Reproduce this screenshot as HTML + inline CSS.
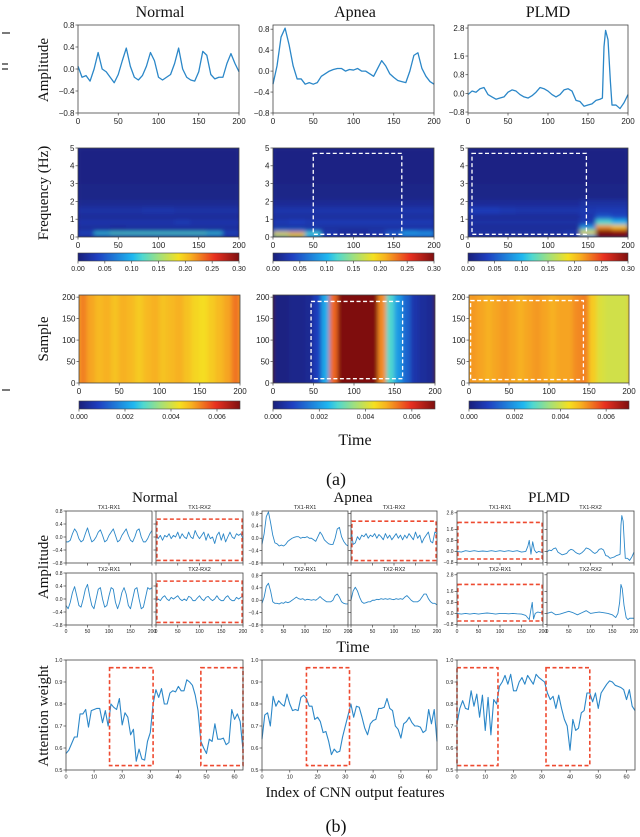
<!DOCTYPE html>
<html><head><meta charset="utf-8">
<style>
html,body{margin:0;padding:0;background:#fff;}
svg{display:block;}
.serif{font-family:"Liberation Serif",serif;fill:#111;}
.sans{font-family:"Liberation Sans",sans-serif;fill:#222;}
</style></head>
<body>
<svg id="fig" width="640" height="837" viewBox="0 0 640 837" xmlns="http://www.w3.org/2000/svg">
<defs>
<filter id="blur2" x="-5%" y="-5%" width="110%" height="110%"><feGaussianBlur stdDeviation="2.2" edgeMode="duplicate"/></filter>
<filter id="blur3" x="-5%" y="-5%" width="110%" height="110%"><feGaussianBlur stdDeviation="2.2,0.1" edgeMode="duplicate"/></filter>
<linearGradient id="jetgrad" x1="0" x2="1" y1="0" y2="0">
<stop offset="0" stop-color="#1a1f7a"/><stop offset="0.12" stop-color="#1f3fc0"/>
<stop offset="0.34" stop-color="#1fb8f0"/><stop offset="0.4" stop-color="#4fd8d0"/><stop offset="0.5" stop-color="#9ee080"/>
<stop offset="0.625" stop-color="#f5e020"/><stop offset="0.7" stop-color="#f7b020"/><stop offset="0.85" stop-color="#e83020"/><stop offset="1" stop-color="#7f1010"/>
</linearGradient>
</defs>
</svg>
<script>
// ---------- data: part (a) row 1 amplitude ----------
const tStep5 = [0,5,10,15,20,25,30,35,40,45,50,55,60,65,70,75,80,85,90,95,100,105,110,115,120,125,130,135,140,145,150,155,160,165,170,175,180,185,190,195,200];
const ampNormal = [0.05,-0.15,-0.12,-0.22,0.0,0.3,0.0,-0.05,-0.15,-0.25,-0.1,0.15,0.38,0.05,-0.15,-0.2,-0.12,0.05,0.3,0.15,-0.15,-0.2,-0.15,-0.1,0.1,0.38,0.0,-0.15,-0.2,-0.22,-0.05,0.32,0.25,-0.1,-0.18,-0.15,-0.15,0.1,0.28,0.1,-0.05];
const ampApnea = [-0.25,0.1,0.65,0.82,0.5,0.1,-0.15,-0.15,-0.25,-0.22,-0.25,-0.22,-0.1,-0.05,0.0,0.03,0.05,0.05,0.0,0.03,0.02,0.05,0.0,0.0,-0.05,-0.1,0.05,0.2,0.1,-0.05,-0.12,-0.18,-0.2,-0.22,0.0,0.3,0.35,0.05,-0.1,-0.2,-0.25];
const tPlmd = [0,5,10,15,20,25,30,35,40,45,50,55,60,65,70,75,80,85,90,95,100,105,110,115,120,125,130,135,140,145,150,155,160,165,168,170,172,175,178,180,185,190,195,200];
const ampPlmd = [-0.05,0.1,0.05,0.2,0.25,-0.05,-0.15,-0.25,-0.2,-0.15,0.05,0.15,0.1,-0.05,-0.15,-0.2,-0.1,0.05,0.25,0.2,0.1,-0.05,-0.15,-0.05,0.15,0.2,0.1,-0.3,-0.35,-0.55,-0.5,-0.45,-0.3,-0.25,-0.2,2.0,2.7,2.3,0.5,-0.5,-0.5,-0.65,-0.4,-0.05];

// ---------- data: part (a) row 2 spectrograms (rows = freq bins, bottom to top; 10 time columns) ----------
const freqEdges = [0,0.15,0.3,0.45,0.7,1.0,1.3,1.7,2.1,3,5];
const specNormal = [
 [0.015,0.015,0.015,0.015,0.015,0.015,0.015,0.015,0.015,0.015],
 [0.04,0.11,0.12,0.12,0.12,0.12,0.12,0.12,0.11,0.04],
 [0.02,0.02,0.02,0.02,0.02,0.02,0.02,0.02,0.02,0.02],
 [0.018,0.018,0.015,0.018,0.018,0.018,0.018,0.018,0.018,0.018],
 [0.025,0.025,0.025,0.025,0.025,0.025,0.03,0.025,0.025,0.025],
 [0.015,0.015,0.015,0.015,0.015,0.015,0.015,0.015,0.015,0.015],
 [0.022,0.022,0.022,0.022,0.025,0.025,0.022,0.022,0.022,0.022],
 [0.012,0.012,0.012,0.012,0.012,0.012,0.012,0.012,0.012,0.012],
 [0.007,0.007,0.007,0.007,0.007,0.007,0.007,0.007,0.007,0.007],
 [0.005,0.005,0.005,0.005,0.005,0.005,0.005,0.005,0.005,0.005]];
const specApnea = [
 [0.15,0.18,0.1,0.025,0.015,0.015,0.015,0.025,0.05,0.06],
 [0.2,0.22,0.12,0.03,0.02,0.02,0.03,0.06,0.1,0.09],
 [0.07,0.07,0.05,0.02,0.015,0.015,0.02,0.03,0.04,0.04],
 [0.02,0.02,0.02,0.02,0.02,0.02,0.02,0.02,0.02,0.02],
 [0.03,0.035,0.03,0.03,0.03,0.03,0.03,0.03,0.03,0.03],
 [0.018,0.018,0.018,0.018,0.018,0.018,0.018,0.018,0.018,0.018],
 [0.025,0.025,0.025,0.025,0.025,0.025,0.025,0.025,0.025,0.025],
 [0.014,0.014,0.014,0.014,0.014,0.014,0.014,0.014,0.014,0.014],
 [0.007,0.007,0.007,0.007,0.007,0.007,0.007,0.007,0.007,0.007],
 [0.005,0.005,0.005,0.005,0.005,0.005,0.005,0.005,0.005,0.005]];
const specPlmd = [
 [0.015,0.015,0.015,0.015,0.015,0.015,0.015,0.1,0.3,0.3],
 [0.02,0.02,0.02,0.02,0.02,0.02,0.03,0.2,0.3,0.3],
 [0.02,0.02,0.02,0.02,0.02,0.02,0.02,0.15,0.3,0.28],
 [0.015,0.015,0.015,0.015,0.015,0.015,0.015,0.08,0.22,0.2],
 [0.022,0.022,0.022,0.022,0.022,0.022,0.022,0.03,0.12,0.1],
 [0.015,0.015,0.015,0.015,0.015,0.015,0.015,0.025,0.05,0.04],
 [0.032,0.032,0.028,0.025,0.025,0.025,0.025,0.028,0.03,0.03],
 [0.015,0.015,0.015,0.015,0.015,0.015,0.015,0.02,0.02,0.02],
 [0.007,0.007,0.007,0.007,0.007,0.007,0.007,0.007,0.007,0.007],
 [0.005,0.005,0.005,0.005,0.005,0.005,0.005,0.005,0.005,0.005]];

// ---------- data: part (a) row 3 (value per 10-sample time column) ----------
const corrNormal = [0.0053,0.005,0.0048,0.0049,0.0047,0.0049,0.0048,0.0046,0.0048,0.0049,0.0047,0.0048,0.0049,0.0047,0.0045,0.0044,0.0046,0.0048,0.005,0.0054];
const corrApnea = [0.0001,0.0001,0.0002,0.0002,0.0003,0.0008,0.0022,0.0055,0.007,0.007,0.007,0.007,0.007,0.0052,0.0028,0.002,0.0013,0.0006,0.0004,0.0003];
const corrPlmd = [0.0051,0.005,0.0049,0.005,0.0051,0.005,0.0049,0.005,0.0051,0.005,0.0049,0.005,0.005,0.0052,0.0053,0.0046,0.0041,0.004,0.004,0.004];

// ---------- data: part (b) amplitudes ----------
const bNormal11 = [-0.15,-0.15,-0.1,0.1,0.25,0.15,-0.05,-0.15,-0.1,0.1,0.28,0.05,-0.15,-0.1,0.0,0.15,0.22,0.05,-0.15,-0.1,0.05,0.15,0.25,0.05,-0.15,-0.1,0.05,0.15,0.25,0.05,-0.1,-0.15,0.0,0.2,0.25,0.0,-0.15,-0.15,-0.05,0.1,0.2];
const bNormal12 = [0.1,-0.05,0.05,-0.1,0.05,0.0,0.1,-0.05,0.05,0.0,0.15,-0.05,0.1,0.0,-0.05,0.15,0.0,-0.05,0.2,0.05,-0.05,0.05,0.15,-0.1,0.1,-0.05,0.0,-0.2,0.05,0.15,-0.1,0.1,-0.15,0.0,0.15,0.0,-0.05,0.1,0.05,0.1,-0.05];
const bNormal21 = [-0.2,-0.3,-0.1,0.2,0.38,0.1,-0.2,-0.25,0.0,0.3,0.45,0.1,-0.2,-0.3,0.0,0.3,0.35,0.0,-0.25,-0.2,0.1,0.35,0.3,-0.1,-0.3,-0.1,0.2,0.35,0.15,-0.2,-0.3,0.0,0.3,0.35,0.0,-0.3,-0.25,0.05,0.35,0.3,0.35];
const bNormal22 = [-0.05,0.0,-0.05,0.05,0.1,0.0,-0.05,0.05,0.0,0.05,0.1,0.0,-0.05,0.0,-0.05,0.08,0.05,-0.05,-0.05,0.03,0.1,0.0,-0.05,0.05,0.08,0.0,-0.05,0.0,0.1,0.0,-0.05,-0.05,0.05,0.1,0.0,-0.05,-0.05,0.05,0.0,0.05,0.1];
const bApnea11 = [-0.2,0.15,0.7,0.85,0.5,0.1,-0.15,-0.18,-0.25,-0.22,-0.25,-0.2,-0.1,-0.05,0.0,0.03,0.05,0.05,0.0,0.03,0.02,0.05,0.0,0.0,-0.05,-0.1,0.05,0.2,0.1,-0.05,-0.12,-0.18,-0.2,-0.2,0.0,0.3,0.35,0.05,-0.1,-0.2,-0.25];
const bApnea12 = [0.3,-0.2,-0.15,0.05,-0.05,0.1,0.05,0.15,0.0,0.1,0.05,0.15,0.0,0.12,0.05,-0.05,0.15,0.0,0.1,-0.05,0.05,0.15,0.0,0.1,-0.05,0.1,0.0,0.15,0.05,-0.05,0.2,0.0,0.1,-0.15,0.0,0.1,0.2,-0.1,-0.15,0.2,0.15];
const bApnea21 = [-0.1,0.1,0.45,0.55,0.3,-0.05,-0.1,-0.1,-0.12,-0.08,-0.1,-0.05,-0.08,-0.05,0.0,0.05,0.1,0.05,0.03,0.05,0.0,0.03,0.02,0.0,0.02,0.0,0.05,0.12,0.05,0.0,-0.05,-0.05,-0.05,0.0,0.15,0.2,0.1,-0.05,-0.1,-0.12,-0.12];
const bApnea22 = [0.0,0.3,0.42,0.3,0.1,-0.05,-0.1,-0.08,-0.05,-0.05,0.0,0.0,0.03,0.02,0.05,0.03,0.05,0.03,0.05,0.03,0.02,0.05,0.03,0.05,0.03,0.1,0.15,0.08,0.0,-0.05,-0.05,-0.05,0.0,0.1,0.2,0.2,0.05,-0.05,-0.1,-0.1,-0.15];
const tP11 = [0,10,20,30,40,50,60,70,80,90,100,110,120,130,140,150,160,165,168,172,176,180,185,190,200];
const bPlmd11 = [0.0,-0.05,0.05,0.0,0.05,0.0,0.03,0.0,0.05,0.0,0.05,0.0,0.05,0.0,0.05,-0.05,0.0,0.4,0.8,-0.2,0.7,0.1,-0.1,0.0,-0.1];
const bPlmd12 = [-0.05,0.1,0.05,0.2,0.25,-0.05,-0.15,-0.25,-0.2,-0.15,0.05,0.15,0.1,-0.05,-0.15,-0.2,-0.1,0.05,0.25,0.2,0.1,-0.05,-0.15,-0.05,0.15,0.2,0.1,-0.3,-0.35,-0.5,-0.45,-0.4,-0.3,-0.25,-0.2,1.9,2.6,2.2,0.5,-0.5,-0.5,-0.65,-0.4,-0.05];
const tP21 = [0,10,20,30,40,50,60,70,80,90,100,110,120,130,140,150,160,168,172,175,178,182,188,195,200];
const bPlmd21 = [0.0,-0.05,0.0,-0.05,0.0,-0.05,0.0,0.03,0.0,-0.05,0.0,0.0,-0.03,0.0,-0.03,-0.05,-0.15,-0.45,0.3,0.8,-0.4,0.0,0.1,0.05,0.1];
const tP22 = [0,10,20,30,40,50,60,70,80,90,100,110,120,130,140,150,158,163,167,170,173,177,182,186,190,200];
const bPlmd22 = [0.0,0.1,-0.1,-0.05,0.05,0.15,0.05,-0.1,0.05,0.2,0.0,0.05,0.1,0.05,0.0,-0.1,-0.3,0.0,0.8,2.1,1.8,0.6,-0.3,-0.45,-0.35,-0.35];

// ---------- data: attention weights (index 0..63) ----------
const attNormal = [0.575,0.59,0.62,0.65,0.65,0.755,0.755,0.775,0.695,0.77,0.775,0.78,0.78,0.715,0.77,0.7,0.8,0.785,0.775,0.825,0.705,0.76,0.74,0.66,0.685,0.54,0.595,0.55,0.545,0.63,0.67,0.8,0.865,0.83,0.87,0.8,0.8,0.85,0.86,0.855,0.88,0.86,0.86,0.91,0.9,0.885,0.84,0.77,0.63,0.6,0.575,0.64,0.63,0.71,0.64,0.64,0.645,0.615,0.625,0.775,0.73,0.755,0.72,0.59];
const attApnea = [0.64,0.75,0.76,0.7,0.835,0.79,0.815,0.8,0.79,0.845,0.8,0.77,0.775,0.77,0.83,0.84,0.825,0.79,0.79,0.73,0.74,0.72,0.67,0.675,0.63,0.57,0.595,0.58,0.585,0.65,0.7,0.75,0.8,0.74,0.79,0.785,0.74,0.69,0.66,0.71,0.725,0.73,0.78,0.78,0.785,0.825,0.78,0.77,0.7,0.685,0.645,0.71,0.72,0.74,0.715,0.7,0.7,0.695,0.67,0.68,0.775,0.71,0.775,0.63];
const attPlmd = [0.71,0.78,0.815,0.78,0.775,0.86,0.79,0.845,0.74,0.84,0.68,0.83,0.66,0.82,0.8,0.88,0.9,0.93,0.89,0.935,0.86,0.86,0.9,0.92,0.89,0.93,0.91,0.89,0.935,0.92,0.91,0.9,0.85,0.82,0.835,0.78,0.84,0.78,0.73,0.7,0.59,0.73,0.68,0.69,0.76,0.77,0.85,0.85,0.81,0.85,0.78,0.85,0.87,0.89,0.905,0.9,0.885,0.88,0.875,0.865,0.82,0.865,0.79,0.77];

// ---------- tick label arrays ----------
const tickTime = [0,50,100,150,200];
const tickAmp = ['0.8','0.4','0.0','−0.4','−0.8'];
const tickAmpVals = [0.8,0.4,0,-0.4,-0.8];
const tickPlmdVals = [2.8,1.6,0.8,0,-0.8];
const tickPlmd = ['2.8','1.6','0.8','0.0','−0.8'];
const tickFreq = [0,1,2,3,4,5];
const tickSample = [0,50,100,150,200];
const tickCb1 = ['0.00','0.05','0.10','0.15','0.20','0.25','0.30'];
const tickCb1Vals = [0,0.05,0.1,0.15,0.2,0.25,0.3];
const tickCb2 = ['0.000','0.002','0.004','0.006'];
const tickCb2Vals = [0,0.002,0.004,0.006];
const tickAtt = ['0.5','0.6','0.7','0.8','0.9','1.0'];
const tickAttVals = [0.5,0.6,0.7,0.8,0.9,1.0];
const tickIdx = [0,10,20,30,40,50,60];

// ---------- helpers ----------
const NS='http://www.w3.org/2000/svg';
const svg=document.getElementById('fig');
const LINE='#2b87c8';
function mk(tag, parent){ const e=document.createElementNS(NS,tag); (parent||svg).appendChild(e); return e; }
// muted jet colormap (matches the softened colours of the reference)
const jetStops=[[0,[26,31,122]],[0.12,[31,63,192]],[0.34,[31,184,240]],[0.4,[79,216,208]],[0.5,[158,224,128]],[0.625,[245,224,32]],[0.7,[247,176,32]],[0.85,[232,48,32]],[1,[127,16,16]]];
function jet(x){ x=Math.max(0,Math.min(1,x));
  for(let i=1;i<jetStops.length;i++){ if(x<=jetStops[i][0]){ const a=jetStops[i-1],b=jetStops[i]; const f=(x-a[0])/(b[0]-a[0]);
    const c=a[1].map((v,k)=>Math.round(v+(b[1][k]-v)*f)); return 'rgb('+c.join(',')+')'; } }
  return 'rgb(127,16,16)'; }
function scale(box,xd,yd){ return { x:v=>box.x+(v-xd[0])/(xd[1]-xd[0])*box.w, y:v=>box.y+box.h-(v-yd[0])/(yd[1]-yd[0])*box.h }; }
function text(str,x,y,size,cls,anchor,parent){ const t=mk('text',parent); t.setAttribute('x',x); t.setAttribute('y',y);
  t.setAttribute('font-size',size); t.setAttribute('class',cls); t.setAttribute('text-anchor',anchor||'middle'); t.textContent=str; return t; }
function frame(box,name){ const r=mk('rect'); r.setAttribute('x',box.x); r.setAttribute('y',box.y); r.setAttribute('width',box.w); r.setAttribute('height',box.h);
  r.setAttribute('fill','none'); r.setAttribute('stroke','#444'); r.setAttribute('stroke-width','0.8');
  
   return r; }
function xticks(sc,box,vals,labels,size,name){ const g=mk('g');
  
  
  vals.forEach((v,i)=>{ const X=sc.x(v); const l=mk('line',g); l.setAttribute('x1',X); l.setAttribute('x2',X); l.setAttribute('y1',box.y+box.h); l.setAttribute('y2',box.y+box.h+2.5); l.setAttribute('stroke','#444'); l.setAttribute('stroke-width','0.7');
    if(labels) text(labels[i],X,box.y+box.h+3+size,size,'sans','middle',g); }); }
function yticks(sc,box,vals,labels,size,name){ const g=mk('g');
  
  
  vals.forEach((v,i)=>{ const Y=sc.y(v); const l=mk('line',g); l.setAttribute('x1',box.x-2.5); l.setAttribute('x2',box.x); l.setAttribute('y1',Y); l.setAttribute('y2',Y); l.setAttribute('stroke','#444'); l.setAttribute('stroke-width','0.7');
    if(labels) text(labels[i],box.x-3.5,Y+size*0.36,size,'sans','end',g); }); }
function series(sc,xs,ys,width,name){ const p=mk('path'); let d='';
  ys.forEach((v,i)=>{ d+=(i?'L':'M')+sc.x(xs[i]).toFixed(2)+','+sc.y(v).toFixed(2); });
  p.setAttribute('d',d); p.setAttribute('fill','none'); p.setAttribute('stroke',LINE); p.setAttribute('stroke-width',width); p.setAttribute('stroke-linejoin','round');
  
   return p; }
function dbox(sc,x0,x1,y0,y1,color,w,name){ const r=mk('rect'); const X0=sc.x(x0),X1=sc.x(x1),Y0=sc.y(y1),Y1=sc.y(y0);
  r.setAttribute('x',X0); r.setAttribute('y',Y0); r.setAttribute('width',X1-X0); r.setAttribute('height',Y1-Y0);
  r.setAttribute('fill','none'); r.setAttribute('stroke',color); r.setAttribute('stroke-width',w); r.setAttribute('stroke-dasharray','4,2.5');
  
   }
let clipN=0;
function clipGroup(box){ const cp=mk('clipPath',svg.querySelector('defs')); const id='c'+(clipN++); cp.setAttribute('id',id);
  const r=mk('rect',cp); r.setAttribute('x',box.x); r.setAttribute('y',box.y); r.setAttribute('width',box.w); r.setAttribute('height',box.h);
  const g=mk('g'); g.setAttribute('clip-path','url(#'+id+')'); return g; }
function colorbar(box,dmax,vals,labels,name){ const r=mk('rect'); r.setAttribute('x',box.x); r.setAttribute('y',box.y); r.setAttribute('width',box.w); r.setAttribute('height',box.h);
  r.setAttribute('fill','url(#jetgrad)'); r.setAttribute('stroke','#444'); r.setAttribute('stroke-width','0.6');
  
  
  const sc=scale(box,[0,dmax],[0,1]); xticks(sc,box,vals,labels,7,name+'-ticks'); }

// ---------- Part (a) ----------
const colTitlesA=[['Normal',160],['Apnea',355],['PLMD',548]];
colTitlesA.forEach(c=>{ const t=text(c[0],c[1],17,16,'serif');
  
   });

const row1=[
 {n:'normal',box:{x:78,y:25,w:161,h:88},yd:[-0.8,0.8],xs:tStep5,ys:ampNormal,tv:tickAmpVals,tl:tickAmp},
 {n:'apnea',box:{x:273,y:25,w:161,h:88},yd:[-0.8,0.88],xs:tStep5,ys:ampApnea,tv:tickAmpVals,tl:tickAmp},
 {n:'plmd',box:{x:468,y:25,w:160,h:88},yd:[-0.84,2.93],xs:tPlmd,ys:ampPlmd,tv:tickPlmdVals,tl:tickPlmd}];
row1.forEach(p=>{ const sc=scale(p.box,[0,200],p.yd);
  series(sc,p.xs,p.ys,1.3,'amplitude-line-'+p.n);
  frame(p.box,'amplitude-axes-'+p.n);
  xticks(sc,p.box,tickTime,tickTime.map(String),8,'amplitude-x-ticks-'+p.n);
  yticks(sc,p.box,p.tv,p.tl,8,'amplitude-y-ticks-'+p.n); });

const row2=[
 {n:'normal',box:{x:78,y:148,w:161,h:89},z:specNormal,bx:null},
 {n:'apnea',box:{x:273,y:148,w:161,h:89},z:specApnea,bx:[50,160,0.15,4.7]},
 {n:'plmd',box:{x:468,y:148,w:160,h:89},z:specPlmd,bx:[5,148,0.15,4.7]}];
row2.forEach(p=>{ const sc=scale(p.box,[0,200],[0,5]);
  const g=clipGroup(p.box);
  
  
  const bg=mk('rect',g); bg.setAttribute('x',p.box.x); bg.setAttribute('y',p.box.y); bg.setAttribute('width',p.box.w); bg.setAttribute('height',p.box.h); bg.setAttribute('fill',jet(0.01/0.3));
  const inner=mk('g',g); inner.setAttribute('filter','url(#blur2)');
  const nt=p.z[0].length;
  p.z.forEach((row,ri)=>{ row.forEach((v,ci)=>{ const c=mk('rect',inner);
    const x0=sc.x(ci*200/nt), x1=sc.x((ci+1)*200/nt), y0=sc.y(freqEdges[ri+1]), y1=sc.y(freqEdges[ri]);
    c.setAttribute('x',x0-0.3); c.setAttribute('y',y0-0.3); c.setAttribute('width',x1-x0+0.6); c.setAttribute('height',y1-y0+0.6); c.setAttribute('fill',jet(v/0.3));
    
     }); });
  if(p.bx) dbox(sc,p.bx[0],p.bx[1],p.bx[2],p.bx[3],'#fff',1.3,'highlight-box-spectrogram-'+p.n);
  frame(p.box,'spectrogram-axes-'+p.n);
  xticks(sc,p.box,tickTime,tickTime.map(String),8,'spectrogram-x-ticks-'+p.n);
  yticks(sc,p.box,tickFreq,tickFreq.map(String),8,'spectrogram-y-ticks-'+p.n);
  colorbar({x:p.box.x,y:253,w:p.box.w,h:8},0.3,tickCb1Vals,tickCb1,'colorbar-spectrogram-'+p.n); });

const row3=[
 {n:'normal',box:{x:79,y:295,w:161,h:88},z:corrNormal,bx:null},
 {n:'apnea',box:{x:273,y:295,w:162,h:88},z:corrApnea,bx:[47,160,10,190]},
 {n:'plmd',box:{x:469,y:295,w:160,h:88},z:corrPlmd,bx:[2,143,8,192]}];
row3.forEach(p=>{ const sc=scale(p.box,[0,200],[0,205]);
  const g=clipGroup(p.box);
  
  
  const bg=mk('rect',g); bg.setAttribute('x',p.box.x); bg.setAttribute('y',p.box.y); bg.setAttribute('width',p.box.w); bg.setAttribute('height',p.box.h); bg.setAttribute('fill',jet(p.z[10]/0.007));
  const inner=mk('g',g); inner.setAttribute('filter','url(#blur3)');
  const nt=p.z.length;
  p.z.forEach((v,ci)=>{ const c=mk('rect',inner); const x0=sc.x(ci*200/nt), x1=sc.x((ci+1)*200/nt);
    c.setAttribute('x',x0-0.3); c.setAttribute('y',p.box.y-3); c.setAttribute('width',x1-x0+0.6); c.setAttribute('height',p.box.h+6); c.setAttribute('fill',jet(v/0.007));
    
     });
  if(p.bx) dbox(sc,p.bx[0],p.bx[1],p.bx[2],p.bx[3],'#fff',1.3,'highlight-box-sample-'+p.n);
  frame(p.box,'sample-axes-'+p.n);
  xticks(sc,p.box,tickTime,tickTime.map(String),8,'sample-x-ticks-'+p.n);
  yticks(sc,p.box,tickSample,tickSample.map(String),8,'sample-y-ticks-'+p.n);
  colorbar({x:p.box.x,y:401,w:p.box.w,h:8},0.007,tickCb2Vals,tickCb2,'colorbar-sample-'+p.n); });

function rotLabel(str,x,y,size,name){ const t=text(str,0,0,size,'serif'); t.setAttribute('transform','translate('+x+','+y+') rotate(-90)');
  
   }
rotLabel('Amplitude',48,70,15,'y-axis-title-amplitude-a');
rotLabel('Frequency (Hz)',48,193,15,'y-axis-title-frequency');
rotLabel('Sample',48,339,15,'y-axis-title-sample');
let t1=text('Time',355,445,16,'serif');  
let t2=text('(a)',336,485,18,'serif');  

// ---------- Part (b) ----------
const colTitlesB=[['Normal',155],['Apnea',353],['PLMD',549]];
colTitlesB.forEach(c=>{ const t=text(c[0],c[1],502,15,'serif');
  
   });

const ampB=[
 {n:'normal',t:'TX1-RX1',box:{x:66,y:511,w:86,h:52},yd:[-0.8,0.8],xs:tStep5,ys:bNormal11,ylab:true,xlab:false,bx:null},
 {n:'normal',t:'TX1-RX2',box:{x:156,y:511,w:87,h:52},yd:[-0.8,0.8],xs:tStep5,ys:bNormal12,ylab:false,xlab:false,bx:[2,198,-0.72,0.55]},
 {n:'normal',t:'TX2-RX1',box:{x:66,y:573,w:86,h:52},yd:[-0.8,0.8],xs:tStep5,ys:bNormal21,ylab:true,xlab:true,bx:null},
 {n:'normal',t:'TX2-RX2',box:{x:156,y:573,w:87,h:52},yd:[-0.8,0.8],xs:tStep5,ys:bNormal22,ylab:false,xlab:true,bx:[2,198,-0.72,0.55]},
 {n:'apnea',t:'TX1-RX1',box:{x:262,y:511,w:86,h:52},yd:[-0.8,0.88],xs:tStep5,ys:bApnea11,ylab:true,xlab:false,bx:null},
 {n:'apnea',t:'TX1-RX2',box:{x:351,y:511,w:86,h:52},yd:[-0.8,0.88],xs:tStep5,ys:bApnea12,ylab:false,xlab:false,bx:[2,198,-0.72,0.55]},
 {n:'apnea',t:'TX2-RX1',box:{x:262,y:573,w:86,h:52},yd:[-0.8,0.88],xs:tStep5,ys:bApnea21,ylab:true,xlab:true,bx:null},
 {n:'apnea',t:'TX2-RX2',box:{x:351,y:573,w:86,h:52},yd:[-0.8,0.88],xs:tStep5,ys:bApnea22,ylab:false,xlab:true,bx:null},
 {n:'plmd',t:'TX1-RX1',box:{x:457,y:511,w:86,h:52},yd:[-0.84,2.93],xs:tP11,ys:bPlmd11,ylab:true,xlab:false,bx:[2,198,-0.55,2.1]},
 {n:'plmd',t:'TX1-RX2',box:{x:547,y:511,w:87,h:52},yd:[-0.84,2.93],xs:tPlmd,ys:bPlmd12,ylab:false,xlab:false,bx:null},
 {n:'plmd',t:'TX2-RX1',box:{x:457,y:573,w:86,h:52},yd:[-0.84,2.93],xs:tP21,ys:bPlmd21,ylab:true,xlab:true,bx:[2,198,-0.55,2.1]},
 {n:'plmd',t:'TX2-RX2',box:{x:547,y:573,w:87,h:52},yd:[-0.84,2.93],xs:tP22,ys:bPlmd22,ylab:false,xlab:true,bx:null}];
ampB.forEach(p=>{ const sc=scale(p.box,[0,200],p.yd); const key=p.n+'-'+p.t.toLowerCase();
  series(sc,p.xs,p.ys,0.9,'channel-line-'+key);
  if(p.bx) dbox(sc,p.bx[0],p.bx[1],p.bx[2],p.bx[3],'#ee4a30',1.6,'highlight-box-'+key);
  frame(p.box,'channel-axes-'+key);
  const st=text(p.t,p.box.x+p.box.w/2,p.box.y-2,5.5,'sans');
  
  
  const yv = p.yd[1]>2 ? tickPlmdVals : tickAmpVals; const yl = p.yd[1]>2 ? tickPlmd : tickAmp;
  xticks(sc,p.box,tickTime,p.xlab?tickTime.map(String):null,5,'channel-x-ticks-'+key);
  yticks(sc,p.box,yv,p.ylab?yl:null,5,'channel-y-ticks-'+key); });

rotLabel('Amplitude',48,567,15,'y-axis-title-amplitude-b');
let t3=text('Time',353,652,16,'serif');  

const attIdx = attNormal.map((_,i)=>i);
const attn=[
 {n:'normal',box:{x:66,y:660,w:177,h:110},ys:attNormal,bxs:[[15.5,31],[48,63]]},
 {n:'apnea',box:{x:262,y:660,w:175,h:110},ys:attApnea,bxs:[[16,31.5]]},
 {n:'plmd',box:{x:457,y:660,w:178,h:110},ys:attPlmd,bxs:[[0,14.5],[31.5,47]]}];
attn.forEach(p=>{ const sc=scale(p.box,[0,63],[0.5,1.0]);
  series(sc,attIdx,p.ys,1.1,'attention-line-'+p.n);
  p.bxs.forEach((b,i)=>dbox(sc,b[0],b[1],0.52,0.965,'#ee4a30',1.6,'attention-highlight-'+p.n+'-'+i));
  frame(p.box,'attention-axes-'+p.n);
  xticks(sc,p.box,tickIdx,tickIdx.map(String),5.5,'attention-x-ticks-'+p.n);
  yticks(sc,p.box,tickAttVals,tickAtt,5.5,'attention-y-ticks-'+p.n); });
rotLabel('Attention weight',48,716,15,'y-axis-title-attention');
let t4=text('Index of CNN output features',355,797,15,'serif');  
let t5=text('(b)',336,832,18,'serif');  

// left-edge page artifacts
const marks=[[33,8],[64,6],[69,6],[390,8]];
marks.forEach(m=>{ const l=mk('line'); l.setAttribute('x1',2); l.setAttribute('x2',2+m[1]); l.setAttribute('y1',m[0]); l.setAttribute('y2',m[0]); l.setAttribute('stroke','#222'); l.setAttribute('stroke-width','1.2');
  
   });
</script>
</body></html>
